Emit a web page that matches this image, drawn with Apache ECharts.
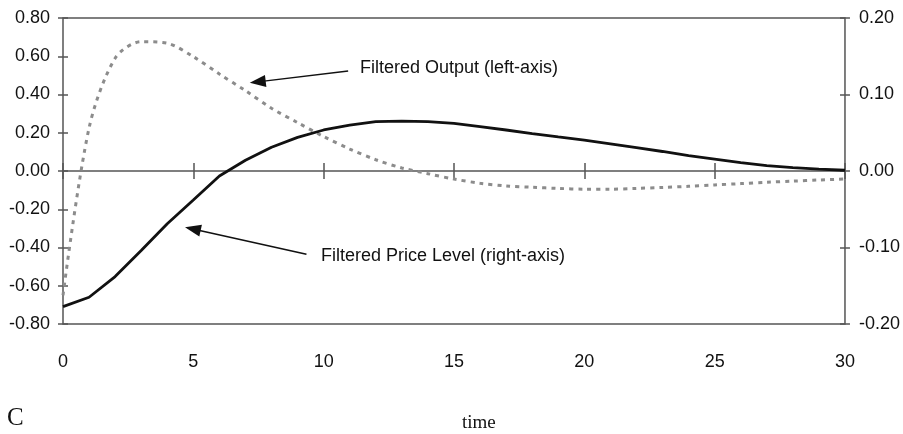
<!DOCTYPE html>
<html>
<head>
<meta charset="utf-8">
<script src="https://cdn.jsdelivr.net/npm/echarts@6/dist/echarts.min.js"></script>
<style>
html,body{margin:0;padding:0;background:#fff;}
#chart{width:903px;height:434px;}
</style>
</head>
<body>
<div id="chart"></div>
<script>
// ---- data ----
var times = [0,1,2,3,4,5,6,7,8,9,10,11,12,13,14,15,16,17,18,19,20,21,22,23,24,25,26,27,28,29,30];
var filteredOutput = [-0.65, 0.225, 0.59, 0.676, 0.668, 0.598, 0.507, 0.42, 0.328, 0.253, 0.18, 0.115, 0.059, 0.016, -0.014, -0.042, -0.064, -0.078, -0.085, -0.091, -0.095, -0.095, -0.091, -0.086, -0.080, -0.073, -0.066, -0.059, -0.053, -0.047, -0.042];
var filteredPrice = [-0.1773, -0.165, -0.138, -0.104, -0.069, -0.038, -0.0065, 0.014, 0.031, 0.044, 0.0536, 0.060, 0.0645, 0.0653, 0.0645, 0.0623, 0.058, 0.0536, 0.049, 0.0445, 0.0405, 0.0355, 0.0305, 0.0255, 0.020, 0.0155, 0.011, 0.007, 0.0045, 0.0025, 0.001];
var xTicks = [0, 30, 5];          // min, max, interval
var leftTicks = [-0.8, 0.8, 0.2];
var rightTicks = [-0.2, 0.2, 0.1];
var outputLabel = 'Filtered Output (left-axis)';
var priceLabel = 'Filtered Price Level (right-axis)';
var outputArrow = [[10.94, 0.523], [7.47, 0.466]];   // [from, to] in left-axis units
var priceArrow = [[9.34, -0.1089], [4.98, -0.0758]];  // [from, to] in right-axis units

var SANS = "'Liberation Sans Narrow','Arial Narrow','Liberation Sans',Arial,sans-serif";
var SERIF = "'Liberation Serif','Times New Roman',serif";
var AX = '#555';

function pair(a, b) { return a.map(function (v, i) { return [v, b[i]]; }); }

var chart = echarts.init(document.getElementById('chart'), null, {renderer: 'canvas'});

function yAx(pos, ticks, inside, showLabel, margin) {
  return {
    type: 'value', position: pos, min: ticks[0], max: ticks[1], interval: ticks[2],
    axisLine: {show: false, onZero: false},
    axisTick: {show: true, inside: inside, length: 5, lineStyle: {color: AX, width: 1.5}},
    splitLine: {show: false},
    axisLabel: {
      show: showLabel, margin: margin, color: '#111', fontFamily: SANS, fontSize: 18,
      formatter: function (v) { return v.toFixed(2); }
    }
  };
}

var option = {
  backgroundColor: '#fff',
  animation: false,
  grid: {left: 63, right: 58, top: 18, bottom: 110, show: true, borderColor: AX, borderWidth: 1.5, backgroundColor: 'transparent'},
  xAxis: [
    {
      type: 'value', position: 'bottom', min: xTicks[0], max: xTicks[1], interval: xTicks[2],
      axisLine: {show: false, onZero: false}, axisTick: {show: false}, splitLine: {show: false},
      axisLabel: {margin: 29, color: '#111', fontFamily: SANS, fontSize: 18}
    },
    {
      type: 'value', position: 'bottom', min: xTicks[0], max: xTicks[1], interval: xTicks[2],
      axisLine: {show: true, onZero: true, onZeroAxisIndex: 0, lineStyle: {color: AX, width: 1.5}},
      axisTick: {show: true, inside: true, length: 8, lineStyle: {color: AX, width: 1.5}},
      axisLabel: {show: false}, splitLine: {show: false}
    },
    {
      type: 'value', position: 'bottom', min: xTicks[0], max: xTicks[1], interval: xTicks[2],
      axisLine: {show: false, onZero: true, onZeroAxisIndex: 1},
      axisTick: {show: true, inside: false, length: 8, lineStyle: {color: AX, width: 1.5}},
      axisLabel: {show: false}, splitLine: {show: false}
    }
  ],
  yAxis: [
    yAx('left', leftTicks, false, true, 13),
    yAx('right', rightTicks, false, true, 14),
    yAx('left', leftTicks, true, false, 13),
    yAx('right', rightTicks, true, false, 14)
  ],
  series: [
    {
      name: 'Filtered Output', type: 'line', xAxisIndex: 0, yAxisIndex: 0,
      data: pair(times, filteredOutput), showSymbol: false, smooth: 0.3,
      lineStyle: {color: '#8c8c8c', width: 3, type: [4, 5]},
      z: 3,
      markLine: {
        silent: true, symbol: ['none', 'triangle'], symbolSize: [12, 16],
        lineStyle: {color: '#111', width: 1.5, type: 'solid'},
        label: {show: false},
        data: [[{coord: outputArrow[0]}, {coord: outputArrow[1]}]]
      }
    },
    {
      name: 'Filtered Price Level', type: 'line', xAxisIndex: 0, yAxisIndex: 1,
      data: pair(times, filteredPrice), showSymbol: false, smooth: false,
      lineStyle: {color: '#111', width: 2.8},
      z: 4,
      markLine: {
        silent: true, symbol: ['none', 'triangle'], symbolSize: [12, 16],
        lineStyle: {color: '#111', width: 1.5, type: 'solid'},
        label: {show: false},
        data: [[{coord: priceArrow[0]}, {coord: priceArrow[1]}]]
      }
    }
  ],
  graphic: [
    {type: 'text', left: 360, top: 59, style: {text: outputLabel, fontFamily: SANS, fontSize: 18, fill: '#111'}},
    {type: 'text', left: 321, top: 247, style: {text: priceLabel, fontFamily: SANS, fontSize: 18, fill: '#111'}},
    {type: 'text', left: 7, top: 406, style: {text: 'C', fontFamily: SERIF, fontSize: 25, fill: '#111'}},
    {type: 'text', left: 462, top: 414, style: {text: 'time', fontFamily: SERIF, fontSize: 19, fill: '#111'}}
  ]
};
chart.setOption(option);
</script>
</body>
</html>
